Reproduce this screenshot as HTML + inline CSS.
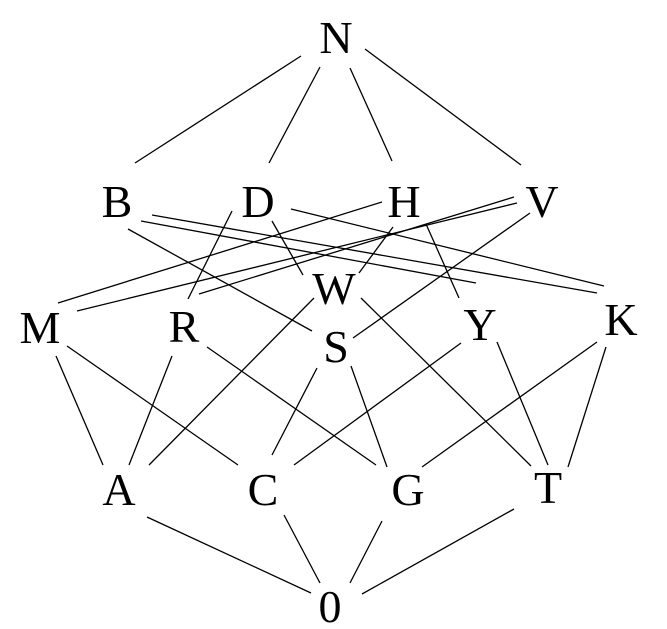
<!DOCTYPE html>
<html><head><meta charset="utf-8"><style>
html,body{margin:0;padding:0;background:#fff;}
svg{display:block;}
text{font-family:"Liberation Serif",serif;font-size:46px;fill:#000;text-anchor:middle;}
line{stroke:#000;stroke-width:1.3;}
</style></head><body>
<svg width="667" height="629" viewBox="0 0 667 629" xmlns="http://www.w3.org/2000/svg">
<g>
<line x1="301" y1="56" x2="135" y2="163"/>
<line x1="320" y1="67" x2="269" y2="163"/>
<line x1="350" y1="68" x2="392" y2="161"/>
<line x1="365" y1="49" x2="521" y2="165"/>
<line x1="128" y1="229" x2="312" y2="331"/>
<line x1="141" y1="221" x2="476" y2="283"/>
<line x1="152" y1="215" x2="597" y2="293"/>
<line x1="291" y1="209" x2="604" y2="286"/>
<line x1="232" y1="211" x2="188" y2="299"/>
<line x1="272" y1="221" x2="303" y2="275"/>
<line x1="382" y1="202" x2="58" y2="303"/>
<line x1="393" y1="227" x2="359" y2="273"/>
<line x1="426" y1="224" x2="459" y2="298"/>
<line x1="517" y1="203" x2="77" y2="311"/>
<line x1="514" y1="197" x2="199" y2="294"/>
<line x1="530" y1="213" x2="353" y2="338"/>
<line x1="314" y1="298" x2="149" y2="465"/>
<line x1="361" y1="298" x2="531" y2="466"/>
<line x1="56" y1="356" x2="103" y2="465"/>
<line x1="67" y1="346" x2="238" y2="465"/>
<line x1="172" y1="356" x2="129" y2="465"/>
<line x1="207" y1="347" x2="376" y2="465"/>
<line x1="317" y1="368" x2="272" y2="455"/>
<line x1="351" y1="366" x2="387" y2="467"/>
<line x1="461" y1="343" x2="294" y2="465"/>
<line x1="497" y1="342" x2="548" y2="465"/>
<line x1="597" y1="342" x2="422" y2="467"/>
<line x1="606" y1="347" x2="568" y2="467"/>
<line x1="147" y1="517" x2="311" y2="593"/>
<line x1="284" y1="515" x2="320" y2="583"/>
<line x1="382" y1="521" x2="350" y2="583"/>
<line x1="514" y1="509" x2="362" y2="594"/>
</g>
<g>
<text x="336" y="53">N</text>
<text x="117" y="217">B</text>
<text x="258" y="217">D</text>
<text x="404" y="217">H</text>
<text x="542" y="217">V</text>
<text x="334" y="304">W</text>
<text x="40" y="343">M</text>
<text x="184" y="342">R</text>
<text x="336" y="362">S</text>
<text x="480" y="340">Y</text>
<text x="621" y="335">K</text>
<text x="119" y="505">A</text>
<text x="263" y="505">C</text>
<text x="408" y="505">G</text>
<text x="548" y="503">T</text>
<text x="330" y="622">0</text>
</g>
</svg>
</body></html>
